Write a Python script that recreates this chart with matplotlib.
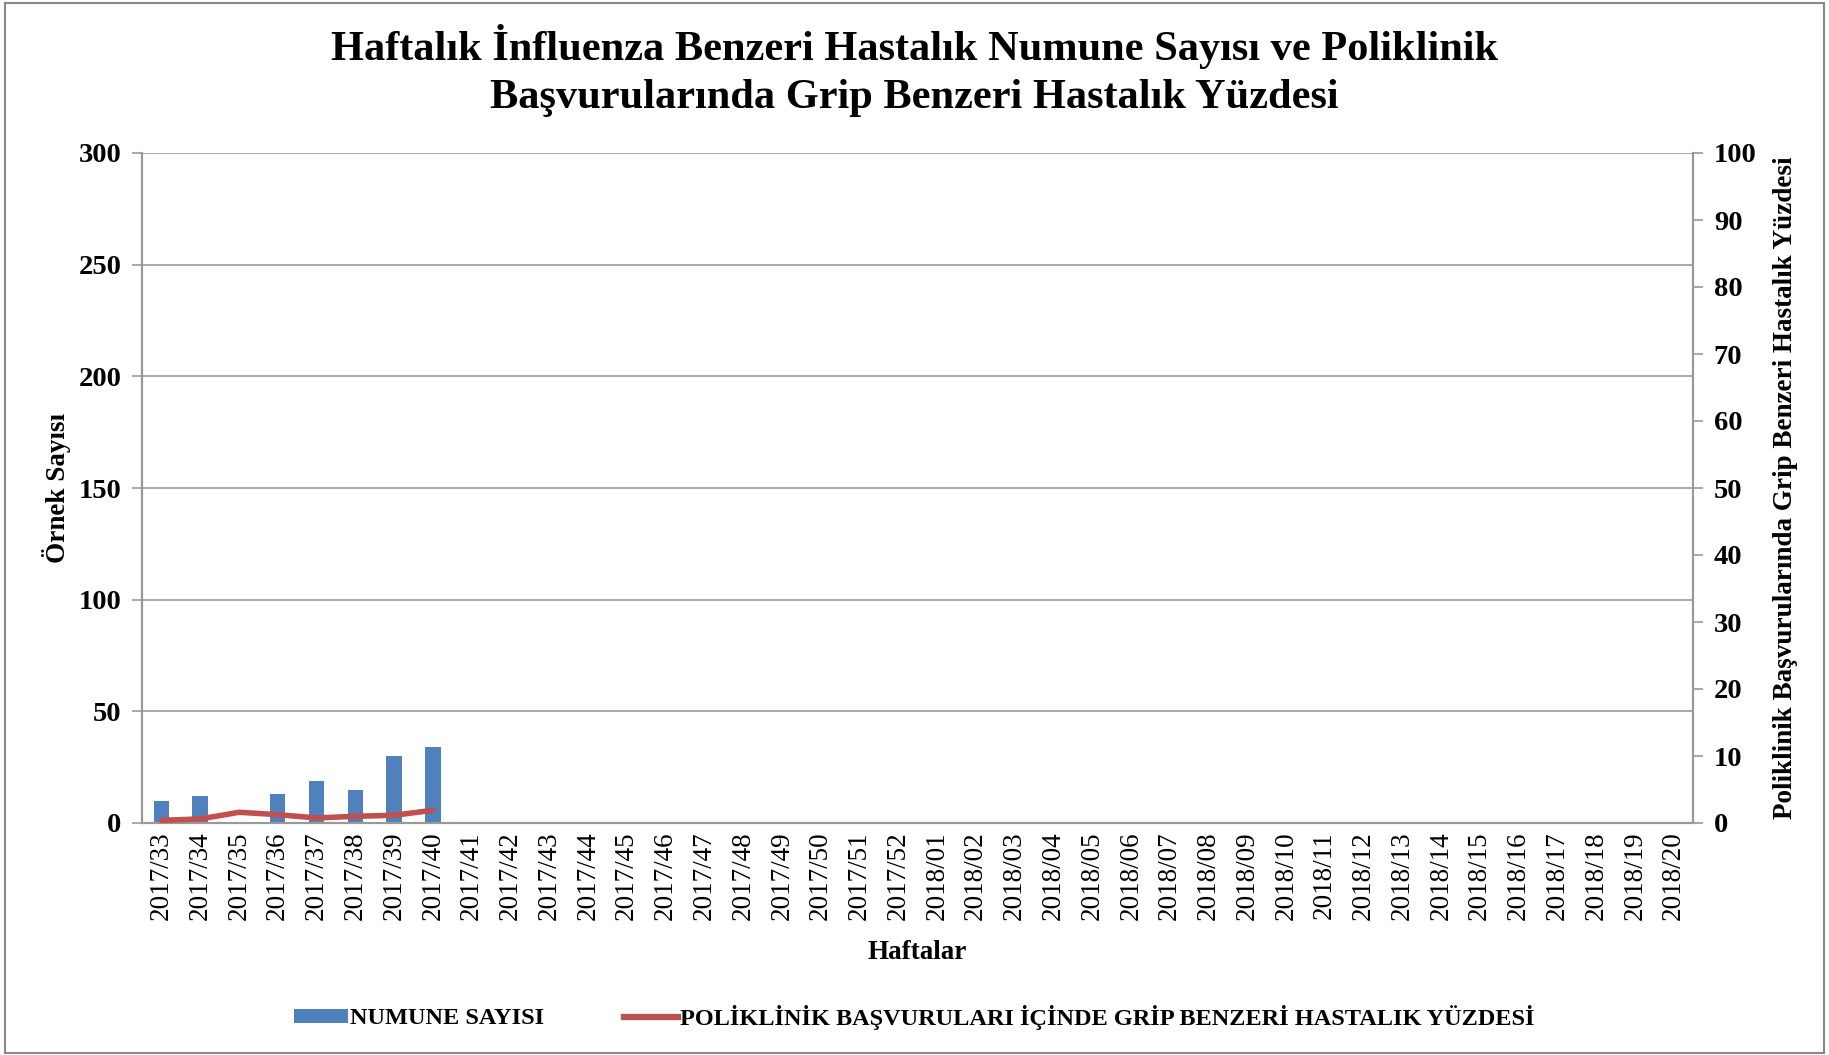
import matplotlib
matplotlib.use("Agg")
import matplotlib.pyplot as plt
import numpy as np
from matplotlib.patches import Rectangle, Patch
from matplotlib.lines import Line2D

# ── data ──────────────────────────────────────────────────────────────────────
weeks = [f"2017/{w}" for w in range(33, 53)] + [f"2018/{w:02d}" for w in range(1, 21)]
samples = [10, 12, 0, 13, 19, 15, 30, 34]          # NUMUNE SAYISI (left axis)
ili_pct = [0.4, 0.6, 1.6, 1.25, 0.75, 1.0, 1.15, 1.9]  # GBH yüzdesi (right axis)

BLUE = "#4f81bd"
RED = "#c0504d"
GRAY = "#999999"

plt.rcParams["font.family"] = ["Liberation Serif", "DejaVu Serif"]

fig = plt.figure(figsize=(18.29, 10.55), dpi=100)
ax = fig.add_axes([142 / 1829, 1 - 823 / 1055, (1693 - 142) / 1829, (823 - 153) / 1055])
ax2 = ax.twinx()

x = np.arange(len(weeks))
xs = x[:len(samples)]
bar_vals = [v if v > 0 else np.nan for v in samples]
ax.bar(xs, bar_vals, width=0.4, color=BLUE, zorder=3)
ax2.plot(xs, ili_pct, color=RED, linewidth=4, solid_capstyle="round", zorder=4)

# ── axes ──────────────────────────────────────────────────────────────────────
ax.set_xlim(-0.5, len(weeks) - 0.5)
ax.set_ylim(0, 300)
ax.set_yticks(range(0, 301, 50))
ax2.set_ylim(0, 100)
ax2.set_yticks(range(0, 101, 10))

ax.set_xticks(x)
ax.set_xticklabels(weeks, rotation=90, fontsize=19.5)
ax.tick_params(axis="x", length=0, pad=6)
ax.tick_params(axis="y", length=7, color=GRAY, width=1.2, pad=8, labelsize=20.5)
ax2.tick_params(axis="y", length=7, color=GRAY, width=1.2, pad=8, labelsize=20.5)
for lab in ax.get_yticklabels() + ax2.get_yticklabels():
    lab.set_fontweight("bold")

ax.yaxis.grid(True, color=GRAY, linewidth=1.2)
ax.set_axisbelow(True)
for a in (ax, ax2):
    a.spines["top"].set_visible(False)
    for s in ("left", "right", "bottom"):
        a.spines[s].set_color(GRAY)
        a.spines[s].set_linewidth(1.5)

ax.set_ylabel("Örnek Sayısı", fontsize=19.5, fontweight="bold", labelpad=5)
ax2.set_ylabel("Poliklinik Başvurularında Grip Benzeri Hastalık Yüzdesi",
               fontsize=19.5, fontweight="bold", labelpad=12)
ax.set_xlabel("Haftalar", fontsize=19.5, fontweight="bold", labelpad=14)

fig.suptitle("Haftalık İnfluenza Benzeri Hastalık Numune Sayısı ve Poliklinik\n"
             "Başvurularında Grip Benzeri Hastalık Yüzdesi",
             fontsize=30.5, fontweight="bold", y=0.977, linespacing=1.35)

# legend
handles = [Patch(facecolor=BLUE), Line2D([0], [0], color=RED, linewidth=4.5)]
labels = ["NUMUNE SAYISI", "POLİKLİNİK BAŞVURULARI İÇİNDE GRİP BENZERİ HASTALIK YÜZDESİ"]
fig.legend(handles, labels, loc="center", bbox_to_anchor=(0.5, 1 - 1017 / 1055),
           ncol=2, frameon=False, prop={"weight": "bold", "size": 17.5},
           columnspacing=3.3, handlelength=2.2, handleheight=0.5, handletextpad=0.1)

# outer border
fig.patches.append(Rectangle((0.003, 0.002), 0.994, 0.995, transform=fig.transFigure,
                             fill=False, edgecolor="#888888", linewidth=1.5))

fig.savefig("out.png", dpi=100)
